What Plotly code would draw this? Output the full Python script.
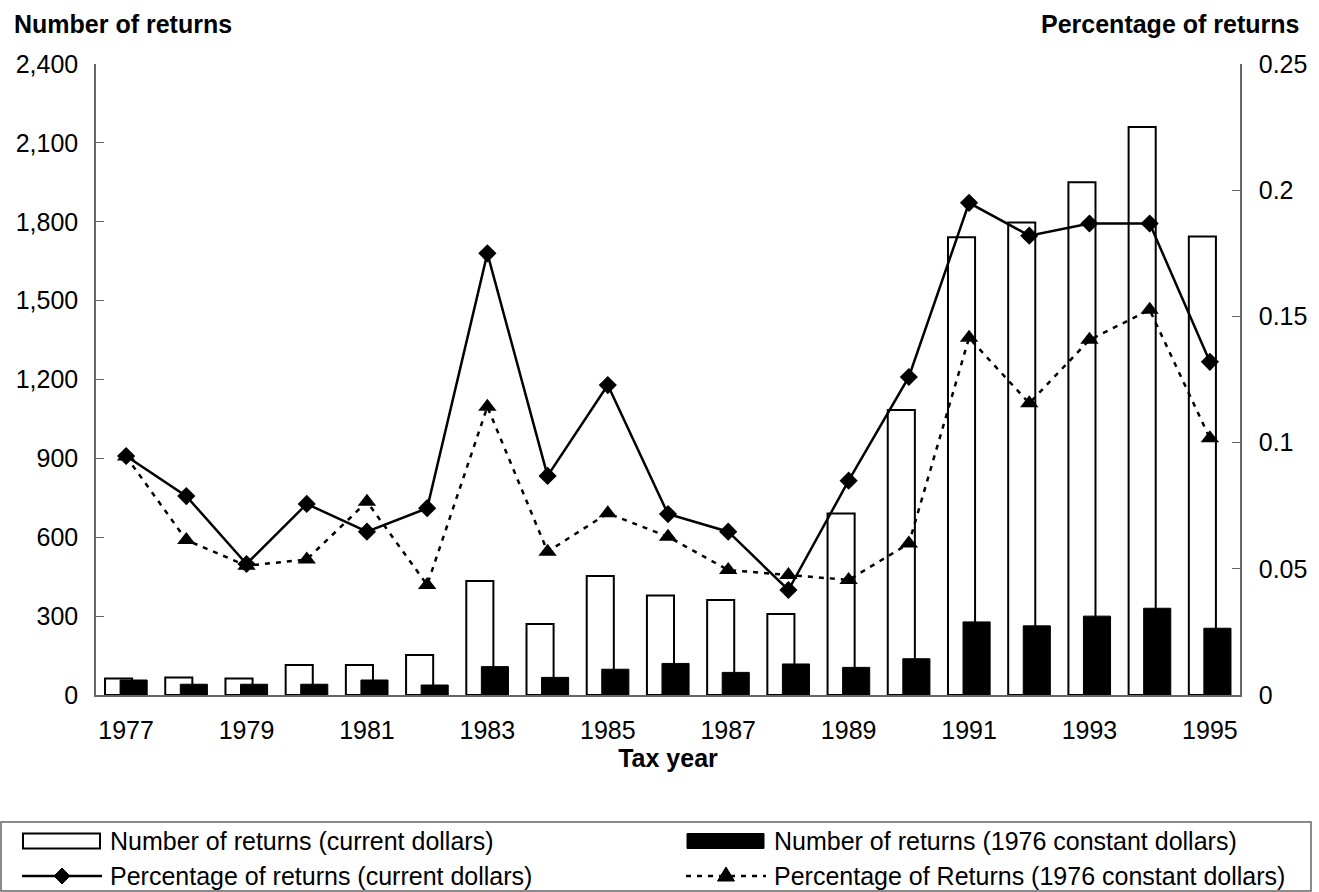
import plotly.graph_objects as go

years = [str(y) for y in range(1977, 1996)]
tick_years = years[::2]

returns_current = [63, 67, 63, 114, 114, 152, 434, 270, 453, 378, 361, 308, 690, 1084, 1741, 1797, 1950, 2160, 1744]
returns_constant = [57, 41, 41, 41, 57, 38, 108, 67, 98, 120, 86, 118, 105, 138, 278, 263, 300, 330, 254]
pct_current = [0.0947, 0.0788, 0.0519, 0.0757, 0.0647, 0.0740, 0.1750, 0.0868, 0.1228, 0.0717, 0.0647,
               0.0416, 0.0849, 0.1260, 0.1950, 0.1820, 0.1868, 0.1868, 0.1320]
pct_constant = [0.0945, 0.0614, 0.0512, 0.0537, 0.0766, 0.0436, 0.1142, 0.0568, 0.0720, 0.0627, 0.0495,
                0.0475, 0.0456, 0.0600, 0.1415, 0.1156, 0.1407, 0.1526, 0.1017]

names = ["Number of returns (current dollars)",
         "Number of returns (1976 constant dollars)",
         "Percentage of returns (current dollars)",
         "Percentage of Returns (1976 constant dollars)"]

FONT = "Liberation Sans, Arial, sans-serif"
FS = 25
AXIS_GREY = "#666666"
DOT = "5px,6px"

# figure / plot-area geometry in pixels
W, H = 1319, 892
PL, PR, PT, PB = 96, 1240, 64, 695


def px(x):
    return (x - PL) / (PR - PL)


def py(y):
    return (PB - y) / (PB - PT)


fig = go.Figure()
fig.add_trace(go.Bar(
    x=years, y=returns_current, name=names[0],
    marker=dict(color="white", line=dict(color="black", width=2)),
    width=0.45, offset=-0.35, yaxis="y", showlegend=False))
fig.add_trace(go.Bar(
    x=years, y=returns_constant, name=names[1],
    marker=dict(color="black", line=dict(color="black", width=1)),
    width=0.45, offset=-0.10, yaxis="y", showlegend=False))
fig.add_trace(go.Scatter(
    x=years, y=pct_current, name=names[2],
    mode="lines+markers", yaxis="y2", showlegend=False,
    line=dict(color="black", width=2.5),
    marker=dict(symbol="diamond", size=14, color="black")))
fig.add_trace(go.Scatter(
    x=years, y=pct_constant, name=names[3],
    mode="lines+markers", yaxis="y2", showlegend=False,
    line=dict(color="black", width=2.5, dash=DOT),
    marker=dict(symbol="triangle-up", size=16, color="black")))

# ---- hand-drawn legend box (matches the wide keys of the original) ----
shapes = []
annotations = []
shapes.append(dict(type="rect", xref="paper", yref="paper",
                   x0=px(1), x1=px(1311), y0=py(822), y1=py(891),
                   line=dict(color=AXIS_GREY, width=1.5), fillcolor="rgba(0,0,0,0)"))
col_sym = [23, 687]
col_txt = [108, 772]
row_y = [841, 876]
shapes.append(dict(type="rect", xref="paper", yref="paper",
                   x0=px(col_sym[0]), x1=px(col_sym[0] + 77), y0=py(row_y[0] - 7.5), y1=py(row_y[0] + 7.5),
                   line=dict(color="black", width=2), fillcolor="white"))
shapes.append(dict(type="rect", xref="paper", yref="paper",
                   x0=px(col_sym[1]), x1=px(col_sym[1] + 77), y0=py(row_y[0] - 7.5), y1=py(row_y[0] + 7.5),
                   line=dict(color="black", width=1), fillcolor="black"))
cx = col_sym[0] + 39
shapes.append(dict(type="line", xref="paper", yref="paper",
                   x0=px(col_sym[0] - 1), x1=px(col_sym[0] + 79), y0=py(row_y[1]), y1=py(row_y[1]),
                   line=dict(color="black", width=2.5)))
shapes.append(dict(type="path", xref="paper", yref="paper",
                   path=f"M {px(cx - 8)} {py(row_y[1])} L {px(cx)} {py(row_y[1] - 8)} "
                        f"L {px(cx + 8)} {py(row_y[1])} L {px(cx)} {py(row_y[1] + 8)} Z",
                   line=dict(color="black", width=1), fillcolor="black"))
cx = col_sym[1] + 39
shapes.append(dict(type="line", xref="paper", yref="paper",
                   x0=px(col_sym[1] - 1), x1=px(col_sym[1] + 79), y0=py(row_y[1]), y1=py(row_y[1]),
                   line=dict(color="black", width=2.5, dash=DOT)))
shapes.append(dict(type="path", xref="paper", yref="paper",
                   path=f"M {px(cx - 8.5)} {py(row_y[1] + 5)} L {px(cx + 8.5)} {py(row_y[1] + 5)} "
                        f"L {px(cx)} {py(row_y[1] - 9)} Z",
                   line=dict(color="black", width=1), fillcolor="black"))
for i, name in enumerate(names):
    col, row = i % 2, i // 2
    annotations.append(dict(text=name, xref="paper", yref="paper",
                            x=px(col_txt[col]), y=py(row_y[row]), xanchor="left", yanchor="middle",
                            showarrow=False, font=dict(size=FS)))

annotations += [
    dict(text="<b>Number of returns</b>", xref="paper", yref="paper",
         x=px(234), y=py(24), xanchor="right", yanchor="middle", showarrow=False,
         font=dict(size=FS)),
    dict(text="<b>Percentage of returns</b>", xref="paper", yref="paper",
         x=px(1301), y=py(24), xanchor="right", yanchor="middle", showarrow=False,
         font=dict(size=FS)),
]

fig.update_layout(
    width=W, height=H,
    margin=dict(l=PL, r=W - PR, t=PT, b=H - PB, autoexpand=False),
    paper_bgcolor="white", plot_bgcolor="white",
    font=dict(family=FONT, size=FS, color="black"),
    barmode="overlay",
    showlegend=False,
    xaxis=dict(type="category", range=[-0.5, len(years) - 0.5],
               tickvals=tick_years, ticktext=tick_years,
               showline=True, linecolor=AXIS_GREY, linewidth=1.5, ticks="",
               showgrid=False, zeroline=False, ticklabelstandoff=12,
               title=dict(text="<b>Tax year</b>", font=dict(size=FS), standoff=0)),
    yaxis=dict(range=[0, 2400], dtick=300, tickformat=",", showgrid=False, zeroline=False,
               showline=True, linecolor=AXIS_GREY, linewidth=1.5,
               ticks="inside", ticklen=8, tickcolor=AXIS_GREY, ticklabelstandoff=11),
    yaxis2=dict(range=[0, 0.25], dtick=0.05, overlaying="y", side="right",
                showgrid=False, zeroline=False, showline=True, linecolor=AXIS_GREY, linewidth=1.5,
                ticks="inside", ticklen=8, tickcolor=AXIS_GREY, ticklabelstandoff=12),
    shapes=shapes,
    annotations=annotations,
)

fig.write_html("out.html", config={"displayModeBar": False},
               post_script="document.body.style.margin='0';")
